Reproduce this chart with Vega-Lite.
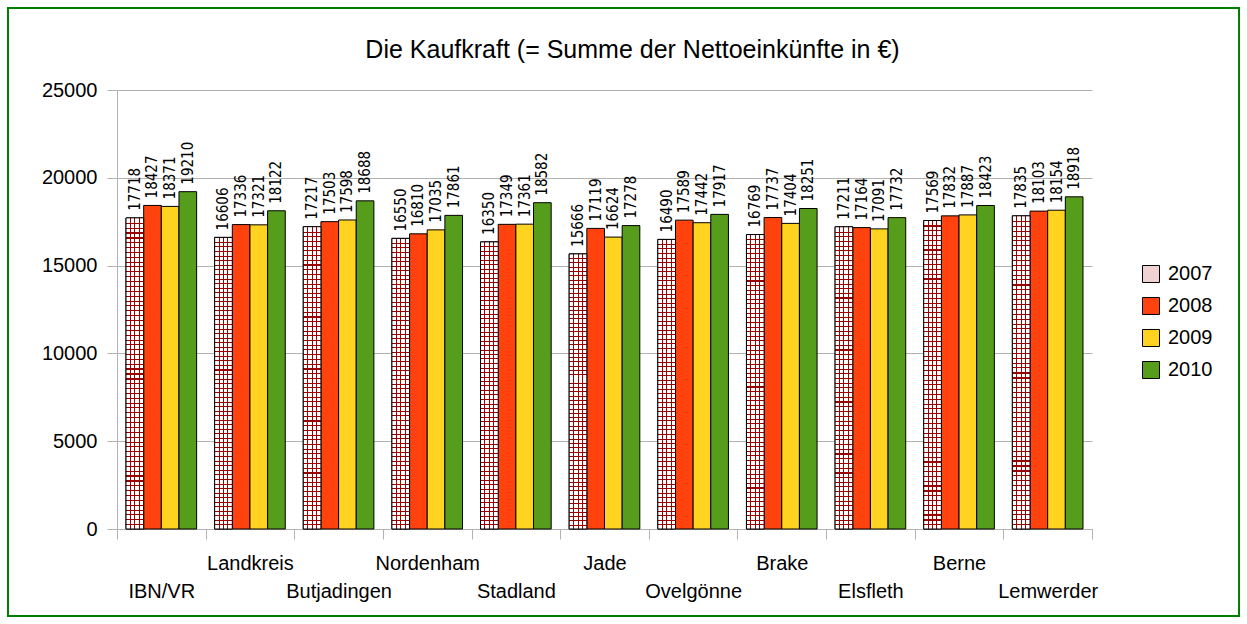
{
  "$schema": "https://vega.github.io/schema/vega-lite/v6.json",
  "width": 1231,
  "height": 608,
  "autosize": {"type": "none"},
  "padding": {"left": 8, "top": 8, "right": 8, "bottom": 8},
  "background": "#ffffff",
  "config": {
    "view": {"stroke": "#008000", "strokeWidth": 2},
    "font": "Liberation Sans"
  },
  "title": {
    "text": "Die Kaufkraft (= Summe der Nettoeinkünfte in €)",
    "font": "Liberation Sans",
    "fontSize": 25,
    "fontWeight": "normal",
    "color": "#000000",
    "anchor": "middle",
    "frame": "group",
    "baseline": "alphabetic",
    "offset": -75,
    "dx": 9
  },
  "data": {
    "values": [
      {"region": "IBN/VR", "year": "2007", "value": 17718},
      {"region": "IBN/VR", "year": "2008", "value": 18427},
      {"region": "IBN/VR", "year": "2009", "value": 18371},
      {"region": "IBN/VR", "year": "2010", "value": 19210},
      {"region": "Landkreis", "year": "2007", "value": 16606},
      {"region": "Landkreis", "year": "2008", "value": 17336},
      {"region": "Landkreis", "year": "2009", "value": 17321},
      {"region": "Landkreis", "year": "2010", "value": 18122},
      {"region": "Butjadingen", "year": "2007", "value": 17217},
      {"region": "Butjadingen", "year": "2008", "value": 17503},
      {"region": "Butjadingen", "year": "2009", "value": 17598},
      {"region": "Butjadingen", "year": "2010", "value": 18688},
      {"region": "Nordenham", "year": "2007", "value": 16550},
      {"region": "Nordenham", "year": "2008", "value": 16810},
      {"region": "Nordenham", "year": "2009", "value": 17035},
      {"region": "Nordenham", "year": "2010", "value": 17861},
      {"region": "Stadland", "year": "2007", "value": 16350},
      {"region": "Stadland", "year": "2008", "value": 17349},
      {"region": "Stadland", "year": "2009", "value": 17361},
      {"region": "Stadland", "year": "2010", "value": 18582},
      {"region": "Jade", "year": "2007", "value": 15666},
      {"region": "Jade", "year": "2008", "value": 17119},
      {"region": "Jade", "year": "2009", "value": 16624},
      {"region": "Jade", "year": "2010", "value": 17278},
      {"region": "Ovelgönne", "year": "2007", "value": 16490},
      {"region": "Ovelgönne", "year": "2008", "value": 17589},
      {"region": "Ovelgönne", "year": "2009", "value": 17442},
      {"region": "Ovelgönne", "year": "2010", "value": 17917},
      {"region": "Brake", "year": "2007", "value": 16769},
      {"region": "Brake", "year": "2008", "value": 17737},
      {"region": "Brake", "year": "2009", "value": 17404},
      {"region": "Brake", "year": "2010", "value": 18251},
      {"region": "Elsfleth", "year": "2007", "value": 17211},
      {"region": "Elsfleth", "year": "2008", "value": 17164},
      {"region": "Elsfleth", "year": "2009", "value": 17091},
      {"region": "Elsfleth", "year": "2010", "value": 17732},
      {"region": "Berne", "year": "2007", "value": 17569},
      {"region": "Berne", "year": "2008", "value": 17832},
      {"region": "Berne", "year": "2009", "value": 17887},
      {"region": "Berne", "year": "2010", "value": 18423},
      {"region": "Lemwerder", "year": "2007", "value": 17835},
      {"region": "Lemwerder", "year": "2008", "value": 18103},
      {"region": "Lemwerder", "year": "2009", "value": 18154},
      {"region": "Lemwerder", "year": "2010", "value": 18918}
    ]
  },
  "encoding": {
    "x": {
      "field": "region",
      "type": "nominal",
      "sort": null,
      "scale": {"range": [109, 1084], "paddingInner": 0, "paddingOuter": 0},
      "axis": {
        "orient": "bottom",
        "offset": -87,
        "title": null,
        "tickBand": "extent",
        "tickSize": 10,
        "tickColor": "#b3b3b3",
        "domainColor": "#b3b3b3",
        "labelFont": "Liberation Sans",
        "labelFontSize": 20,
        "labelColor": "#000000",
        "labelAngle": 0,
        "labelPadding": 14,
        "labelLineHeight": 28,
        "labelBaseline": "top",
        "labelOverlap": false,
        "labelBound": false,
        "labelFlush": false,
        "labelExpr": "indexof(['IBN/VR','Butjadingen','Stadland','Ovelgönne','Elsfleth','Lemwerder'], datum.value) >= 0 ? ['', datum.label] : datum.label",
        "grid": false
      }
    },
    "xOffset": {
      "field": "year",
      "type": "nominal",
      "scale": {"paddingInner": 0, "paddingOuter": 0.51}
    },
    "y": {
      "field": "value",
      "type": "quantitative",
      "scale": {"domain": [0, 25000], "nice": false, "zero": true, "range": [521, 82]},
      "axis": {
        "orient": "left",
        "offset": -109,
        "title": null,
        "values": [0, 5000, 10000, 15000, 20000, 25000],
        "format": "d",
        "tickSize": 10,
        "tickColor": "#b3b3b3",
        "domainColor": "#b3b3b3",
        "grid": true,
        "gridColor": "#b3b3b3",
        "labelFont": "Liberation Sans",
        "labelFontSize": 20,
        "labelColor": "#000000",
        "labelPadding": 10
      }
    }
  },
  "layer": [
    {
      "mark": {"type": "bar", "stroke": "#000000", "strokeWidth": 1},
      "encoding": {
        "color": {
          "field": "year",
          "type": "nominal",
          "scale": {"domain": ["2007", "2008", "2009", "2010"], "range": ["#efd2d2", "#ff420e", "#ffd320", "#579d1c"]},
          "legend": {
            "title": null,
            "orient": "none",
            "legendX": 1133,
            "legendY": 256,
            "padding": 0,
            "symbolType": "square",
            "symbolSize": 289,
            "symbolStrokeColor": "#000000",
            "symbolStrokeWidth": 1,
            "symbolOpacity": 1,
            "labelFont": "Liberation Sans",
            "labelFontSize": 20,
            "labelColor": "#000000",
            "labelOffset": 7,
            "rowPadding": 10
          }
        }
      }
    },
    {
      "transform": [{"filter": "datum.year == '2007'"}],
      "mark": {
        "type": "bar",
        "fill": {"gradient": "linear", "x1": 0, "y1": 0, "x2": 1, "y2": 0, "stops": [
          {"offset": 0, "color": "#ffffff"}, {"offset": 0.222, "color": "#ffffff"}, {"offset": 0.222, "color": "#990000"}, {"offset": 0.278, "color": "#990000"}, {"offset": 0.278, "color": "#ffffff"},
          {"offset": 0.472, "color": "#ffffff"}, {"offset": 0.472, "color": "#990000"}, {"offset": 0.528, "color": "#990000"}, {"offset": 0.528, "color": "#ffffff"},
          {"offset": 0.722, "color": "#ffffff"}, {"offset": 0.722, "color": "#990000"}, {"offset": 0.778, "color": "#990000"}, {"offset": 0.778, "color": "#ffffff"}, {"offset": 1, "color": "#ffffff"}
        ]}
      },
      "encoding": {}
    },
    {
      "transform": [{"filter": "datum.year == '2007'"}],
      "mark": {
        "type": "bar",
        "stroke": "#000000",
        "strokeWidth": 1,
        "fill": {"gradient": "linear", "x1": 0, "y1": 0, "x2": 0, "y2": 1, "stops": [
          {"offset": 0, "color": "rgba(153,0,0,0)"},
          {"offset": 0.016, "color": "rgba(153,0,0,0)"}, {"offset": 0.016, "color": "#990000"}, {"offset": 0.0195, "color": "#990000"}, {"offset": 0.0195, "color": "rgba(153,0,0,0)"},
          {"offset": 0.031, "color": "rgba(153,0,0,0)"}, {"offset": 0.031, "color": "#990000"}, {"offset": 0.0345, "color": "#990000"}, {"offset": 0.0345, "color": "rgba(153,0,0,0)"},
          {"offset": 0.047, "color": "rgba(153,0,0,0)"}, {"offset": 0.047, "color": "#990000"}, {"offset": 0.0505, "color": "#990000"}, {"offset": 0.0505, "color": "rgba(153,0,0,0)"},
          {"offset": 0.063, "color": "rgba(153,0,0,0)"}, {"offset": 0.063, "color": "#990000"}, {"offset": 0.0665, "color": "#990000"}, {"offset": 0.0665, "color": "rgba(153,0,0,0)"},
          {"offset": 0.078, "color": "rgba(153,0,0,0)"}, {"offset": 0.078, "color": "#990000"}, {"offset": 0.0815, "color": "#990000"}, {"offset": 0.0815, "color": "rgba(153,0,0,0)"},
          {"offset": 0.094, "color": "rgba(153,0,0,0)"}, {"offset": 0.094, "color": "#990000"}, {"offset": 0.0975, "color": "#990000"}, {"offset": 0.0975, "color": "rgba(153,0,0,0)"},
          {"offset": 0.109, "color": "rgba(153,0,0,0)"}, {"offset": 0.109, "color": "#990000"}, {"offset": 0.1125, "color": "#990000"}, {"offset": 0.1125, "color": "rgba(153,0,0,0)"},
          {"offset": 0.125, "color": "rgba(153,0,0,0)"}, {"offset": 0.125, "color": "#990000"}, {"offset": 0.1285, "color": "#990000"}, {"offset": 0.1285, "color": "rgba(153,0,0,0)"},
          {"offset": 0.141, "color": "rgba(153,0,0,0)"}, {"offset": 0.141, "color": "#990000"}, {"offset": 0.1445, "color": "#990000"}, {"offset": 0.1445, "color": "rgba(153,0,0,0)"},
          {"offset": 0.156, "color": "rgba(153,0,0,0)"}, {"offset": 0.156, "color": "#990000"}, {"offset": 0.1595, "color": "#990000"}, {"offset": 0.1595, "color": "rgba(153,0,0,0)"},
          {"offset": 0.172, "color": "rgba(153,0,0,0)"}, {"offset": 0.172, "color": "#990000"}, {"offset": 0.1755, "color": "#990000"}, {"offset": 0.1755, "color": "rgba(153,0,0,0)"},
          {"offset": 0.188, "color": "rgba(153,0,0,0)"}, {"offset": 0.188, "color": "#990000"}, {"offset": 0.1915, "color": "#990000"}, {"offset": 0.1915, "color": "rgba(153,0,0,0)"},
          {"offset": 0.203, "color": "rgba(153,0,0,0)"}, {"offset": 0.203, "color": "#990000"}, {"offset": 0.2065, "color": "#990000"}, {"offset": 0.2065, "color": "rgba(153,0,0,0)"},
          {"offset": 0.219, "color": "rgba(153,0,0,0)"}, {"offset": 0.219, "color": "#990000"}, {"offset": 0.2225, "color": "#990000"}, {"offset": 0.2225, "color": "rgba(153,0,0,0)"},
          {"offset": 0.234, "color": "rgba(153,0,0,0)"}, {"offset": 0.234, "color": "#990000"}, {"offset": 0.2375, "color": "#990000"}, {"offset": 0.2375, "color": "rgba(153,0,0,0)"},
          {"offset": 0.250, "color": "rgba(153,0,0,0)"}, {"offset": 0.250, "color": "#990000"}, {"offset": 0.2535, "color": "#990000"}, {"offset": 0.2535, "color": "rgba(153,0,0,0)"},
          {"offset": 0.266, "color": "rgba(153,0,0,0)"}, {"offset": 0.266, "color": "#990000"}, {"offset": 0.2695, "color": "#990000"}, {"offset": 0.2695, "color": "rgba(153,0,0,0)"},
          {"offset": 0.281, "color": "rgba(153,0,0,0)"}, {"offset": 0.281, "color": "#990000"}, {"offset": 0.2845, "color": "#990000"}, {"offset": 0.2845, "color": "rgba(153,0,0,0)"},
          {"offset": 0.297, "color": "rgba(153,0,0,0)"}, {"offset": 0.297, "color": "#990000"}, {"offset": 0.3005, "color": "#990000"}, {"offset": 0.3005, "color": "rgba(153,0,0,0)"},
          {"offset": 0.313, "color": "rgba(153,0,0,0)"}, {"offset": 0.313, "color": "#990000"}, {"offset": 0.3165, "color": "#990000"}, {"offset": 0.3165, "color": "rgba(153,0,0,0)"},
          {"offset": 0.328, "color": "rgba(153,0,0,0)"}, {"offset": 0.328, "color": "#990000"}, {"offset": 0.3315, "color": "#990000"}, {"offset": 0.3315, "color": "rgba(153,0,0,0)"},
          {"offset": 0.344, "color": "rgba(153,0,0,0)"}, {"offset": 0.344, "color": "#990000"}, {"offset": 0.3475, "color": "#990000"}, {"offset": 0.3475, "color": "rgba(153,0,0,0)"},
          {"offset": 0.359, "color": "rgba(153,0,0,0)"}, {"offset": 0.359, "color": "#990000"}, {"offset": 0.3625, "color": "#990000"}, {"offset": 0.3625, "color": "rgba(153,0,0,0)"},
          {"offset": 0.375, "color": "rgba(153,0,0,0)"}, {"offset": 0.375, "color": "#990000"}, {"offset": 0.3785, "color": "#990000"}, {"offset": 0.3785, "color": "rgba(153,0,0,0)"},
          {"offset": 0.391, "color": "rgba(153,0,0,0)"}, {"offset": 0.391, "color": "#990000"}, {"offset": 0.3945, "color": "#990000"}, {"offset": 0.3945, "color": "rgba(153,0,0,0)"},
          {"offset": 0.406, "color": "rgba(153,0,0,0)"}, {"offset": 0.406, "color": "#990000"}, {"offset": 0.4095, "color": "#990000"}, {"offset": 0.4095, "color": "rgba(153,0,0,0)"},
          {"offset": 0.422, "color": "rgba(153,0,0,0)"}, {"offset": 0.422, "color": "#990000"}, {"offset": 0.4255, "color": "#990000"}, {"offset": 0.4255, "color": "rgba(153,0,0,0)"},
          {"offset": 0.438, "color": "rgba(153,0,0,0)"}, {"offset": 0.438, "color": "#990000"}, {"offset": 0.4415, "color": "#990000"}, {"offset": 0.4415, "color": "rgba(153,0,0,0)"},
          {"offset": 0.453, "color": "rgba(153,0,0,0)"}, {"offset": 0.453, "color": "#990000"}, {"offset": 0.4565, "color": "#990000"}, {"offset": 0.4565, "color": "rgba(153,0,0,0)"},
          {"offset": 0.469, "color": "rgba(153,0,0,0)"}, {"offset": 0.469, "color": "#990000"}, {"offset": 0.4725, "color": "#990000"}, {"offset": 0.4725, "color": "rgba(153,0,0,0)"},
          {"offset": 0.484, "color": "rgba(153,0,0,0)"}, {"offset": 0.484, "color": "#990000"}, {"offset": 0.4875, "color": "#990000"}, {"offset": 0.4875, "color": "rgba(153,0,0,0)"},
          {"offset": 0.500, "color": "rgba(153,0,0,0)"}, {"offset": 0.500, "color": "#990000"}, {"offset": 0.5035, "color": "#990000"}, {"offset": 0.5035, "color": "rgba(153,0,0,0)"},
          {"offset": 0.516, "color": "rgba(153,0,0,0)"}, {"offset": 0.516, "color": "#990000"}, {"offset": 0.5195, "color": "#990000"}, {"offset": 0.5195, "color": "rgba(153,0,0,0)"},
          {"offset": 0.531, "color": "rgba(153,0,0,0)"}, {"offset": 0.531, "color": "#990000"}, {"offset": 0.5345, "color": "#990000"}, {"offset": 0.5345, "color": "rgba(153,0,0,0)"},
          {"offset": 0.547, "color": "rgba(153,0,0,0)"}, {"offset": 0.547, "color": "#990000"}, {"offset": 0.5505, "color": "#990000"}, {"offset": 0.5505, "color": "rgba(153,0,0,0)"},
          {"offset": 0.563, "color": "rgba(153,0,0,0)"}, {"offset": 0.563, "color": "#990000"}, {"offset": 0.5665, "color": "#990000"}, {"offset": 0.5665, "color": "rgba(153,0,0,0)"},
          {"offset": 0.578, "color": "rgba(153,0,0,0)"}, {"offset": 0.578, "color": "#990000"}, {"offset": 0.5815, "color": "#990000"}, {"offset": 0.5815, "color": "rgba(153,0,0,0)"},
          {"offset": 0.594, "color": "rgba(153,0,0,0)"}, {"offset": 0.594, "color": "#990000"}, {"offset": 0.5975, "color": "#990000"}, {"offset": 0.5975, "color": "rgba(153,0,0,0)"},
          {"offset": 0.609, "color": "rgba(153,0,0,0)"}, {"offset": 0.609, "color": "#990000"}, {"offset": 0.6125, "color": "#990000"}, {"offset": 0.6125, "color": "rgba(153,0,0,0)"},
          {"offset": 0.625, "color": "rgba(153,0,0,0)"}, {"offset": 0.625, "color": "#990000"}, {"offset": 0.6285, "color": "#990000"}, {"offset": 0.6285, "color": "rgba(153,0,0,0)"},
          {"offset": 0.641, "color": "rgba(153,0,0,0)"}, {"offset": 0.641, "color": "#990000"}, {"offset": 0.6445, "color": "#990000"}, {"offset": 0.6445, "color": "rgba(153,0,0,0)"},
          {"offset": 0.656, "color": "rgba(153,0,0,0)"}, {"offset": 0.656, "color": "#990000"}, {"offset": 0.6595, "color": "#990000"}, {"offset": 0.6595, "color": "rgba(153,0,0,0)"},
          {"offset": 0.672, "color": "rgba(153,0,0,0)"}, {"offset": 0.672, "color": "#990000"}, {"offset": 0.6755, "color": "#990000"}, {"offset": 0.6755, "color": "rgba(153,0,0,0)"},
          {"offset": 0.688, "color": "rgba(153,0,0,0)"}, {"offset": 0.688, "color": "#990000"}, {"offset": 0.6915, "color": "#990000"}, {"offset": 0.6915, "color": "rgba(153,0,0,0)"},
          {"offset": 0.703, "color": "rgba(153,0,0,0)"}, {"offset": 0.703, "color": "#990000"}, {"offset": 0.7065, "color": "#990000"}, {"offset": 0.7065, "color": "rgba(153,0,0,0)"},
          {"offset": 0.719, "color": "rgba(153,0,0,0)"}, {"offset": 0.719, "color": "#990000"}, {"offset": 0.7225, "color": "#990000"}, {"offset": 0.7225, "color": "rgba(153,0,0,0)"},
          {"offset": 0.734, "color": "rgba(153,0,0,0)"}, {"offset": 0.734, "color": "#990000"}, {"offset": 0.7375, "color": "#990000"}, {"offset": 0.7375, "color": "rgba(153,0,0,0)"},
          {"offset": 0.750, "color": "rgba(153,0,0,0)"}, {"offset": 0.750, "color": "#990000"}, {"offset": 0.7535, "color": "#990000"}, {"offset": 0.7535, "color": "rgba(153,0,0,0)"},
          {"offset": 0.766, "color": "rgba(153,0,0,0)"}, {"offset": 0.766, "color": "#990000"}, {"offset": 0.7695, "color": "#990000"}, {"offset": 0.7695, "color": "rgba(153,0,0,0)"},
          {"offset": 0.781, "color": "rgba(153,0,0,0)"}, {"offset": 0.781, "color": "#990000"}, {"offset": 0.7845, "color": "#990000"}, {"offset": 0.7845, "color": "rgba(153,0,0,0)"},
          {"offset": 0.797, "color": "rgba(153,0,0,0)"}, {"offset": 0.797, "color": "#990000"}, {"offset": 0.8005, "color": "#990000"}, {"offset": 0.8005, "color": "rgba(153,0,0,0)"},
          {"offset": 0.813, "color": "rgba(153,0,0,0)"}, {"offset": 0.813, "color": "#990000"}, {"offset": 0.8165, "color": "#990000"}, {"offset": 0.8165, "color": "rgba(153,0,0,0)"},
          {"offset": 0.828, "color": "rgba(153,0,0,0)"}, {"offset": 0.828, "color": "#990000"}, {"offset": 0.8315, "color": "#990000"}, {"offset": 0.8315, "color": "rgba(153,0,0,0)"},
          {"offset": 0.844, "color": "rgba(153,0,0,0)"}, {"offset": 0.844, "color": "#990000"}, {"offset": 0.8475, "color": "#990000"}, {"offset": 0.8475, "color": "rgba(153,0,0,0)"},
          {"offset": 0.859, "color": "rgba(153,0,0,0)"}, {"offset": 0.859, "color": "#990000"}, {"offset": 0.8625, "color": "#990000"}, {"offset": 0.8625, "color": "rgba(153,0,0,0)"},
          {"offset": 0.875, "color": "rgba(153,0,0,0)"}, {"offset": 0.875, "color": "#990000"}, {"offset": 0.8785, "color": "#990000"}, {"offset": 0.8785, "color": "rgba(153,0,0,0)"},
          {"offset": 0.891, "color": "rgba(153,0,0,0)"}, {"offset": 0.891, "color": "#990000"}, {"offset": 0.8945, "color": "#990000"}, {"offset": 0.8945, "color": "rgba(153,0,0,0)"},
          {"offset": 0.906, "color": "rgba(153,0,0,0)"}, {"offset": 0.906, "color": "#990000"}, {"offset": 0.9095, "color": "#990000"}, {"offset": 0.9095, "color": "rgba(153,0,0,0)"},
          {"offset": 0.922, "color": "rgba(153,0,0,0)"}, {"offset": 0.922, "color": "#990000"}, {"offset": 0.9255, "color": "#990000"}, {"offset": 0.9255, "color": "rgba(153,0,0,0)"},
          {"offset": 0.938, "color": "rgba(153,0,0,0)"}, {"offset": 0.938, "color": "#990000"}, {"offset": 0.9415, "color": "#990000"}, {"offset": 0.9415, "color": "rgba(153,0,0,0)"},
          {"offset": 0.953, "color": "rgba(153,0,0,0)"}, {"offset": 0.953, "color": "#990000"}, {"offset": 0.9565, "color": "#990000"}, {"offset": 0.9565, "color": "rgba(153,0,0,0)"},
          {"offset": 0.969, "color": "rgba(153,0,0,0)"}, {"offset": 0.969, "color": "#990000"}, {"offset": 0.9725, "color": "#990000"}, {"offset": 0.9725, "color": "rgba(153,0,0,0)"},
          {"offset": 0.984, "color": "rgba(153,0,0,0)"}, {"offset": 0.984, "color": "#990000"}, {"offset": 0.9875, "color": "#990000"}, {"offset": 0.9875, "color": "rgba(153,0,0,0)"},
          {"offset": 1, "color": "rgba(153,0,0,0)"}
        ]}
      },
      "encoding": {}
    },
    {
      "mark": {"type": "text", "angle": 270, "align": "left", "baseline": "middle", "dx": 7, "font": "DejaVu Sans Condensed", "fontSize": 15, "color": "#000000"},
      "encoding": {
        "text": {"field": "value", "type": "quantitative", "format": "d"}
      }
    },
    {
      "data": {"values": [{}]},
      "mark": {"type": "rule", "color": "#b3b3b3", "strokeWidth": 1},
      "encoding": {
        "x": {"datum": "Lemwerder", "bandPosition": 1},
        "xOffset": null,
        "y": {"datum": 0},
        "y2": {"datum": 25000}
      }
    }
  ]
}
